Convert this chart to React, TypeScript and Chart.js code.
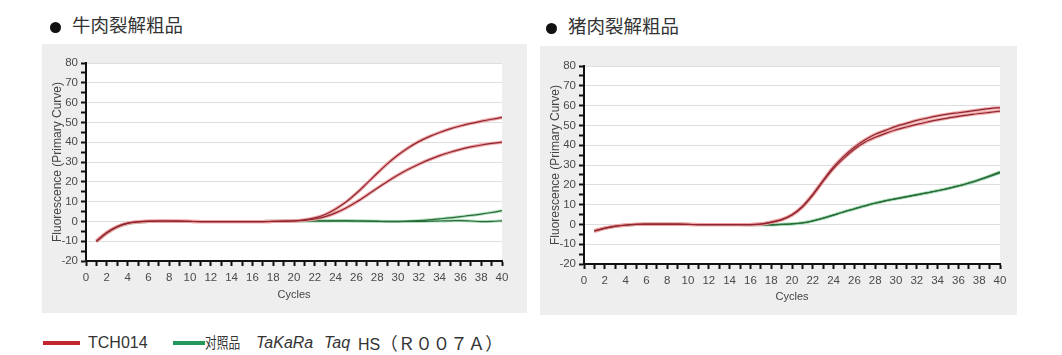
import React, { useEffect, useRef } from "react";
import { Chart, registerables } from "chart.js";

Chart.register(...registerables);

// ---------- data ----------
const cycles = [1, 2, 3, 4, 5, 6, 7, 8, 9, 10, 11, 12, 13, 14, 15, 16, 17, 18, 19, 20, 21, 22, 23, 24, 25, 26, 27, 28, 29, 30, 31, 32, 33, 34, 35, 36, 37, 38, 39, 40];

const xTickValues = [0, 40];
const yRange = [-20, 80];

const beefTitle = "牛肉裂解粗品";
const porkTitle = "猪肉裂解粗品";

// 牛肉裂解粗品 (beef)
const beefRedA = [-9.8, -5.6, -2.6, -0.9, -0.2, 0.1, 0.2, 0.2, 0.1, 0, -0.1, -0.1, -0.1, -0.1, -0.1, -0.1, -0.1, 0, 0.1, 0.3, 0.8, 1.8, 3.5, 6.3, 9.8, 14.2, 19.2, 24.3, 29.2, 33.5, 37.2, 40.3, 42.8, 44.9, 46.7, 48.2, 49.5, 50.6, 51.6, 52.5];
const beefRedB = [-10.2, -5.9, -2.8, -1, -0.3, 0, 0.1, 0.1, 0.1, 0, -0.1, -0.1, -0.1, -0.1, -0.1, -0.1, -0.1, 0, 0.1, 0.2, 0.5, 1.2, 2.4, 4.3, 6.8, 9.8, 13.2, 16.8, 20.2, 23.4, 26.3, 28.9, 31.2, 33.2, 34.9, 36.4, 37.6, 38.6, 39.4, 40];
const beefGreenA = [-10, -5.8, -2.9, -1.1, -0.4, -0.1, 0, 0, 0, 0, 0, 0, 0, 0, 0, 0, 0, 0.1, 0.1, 0.2, 0.2, 0.3, 0.3, 0.3, 0.3, 0.2, 0.2, 0.1, 0, 0, 0.1, 0.4, 0.8, 1.3, 1.8, 2.4, 3, 3.7, 4.5, 5.4];
const beefGreenB = [-10.1, -6, -3, -1.2, -0.4, -0.1, 0, 0, 0, 0, 0, 0, 0, 0, 0, 0, 0, 0.1, 0.1, 0.2, 0.2, 0.2, 0.2, 0.3, 0.3, 0.2, 0.1, 0, -0.1, -0.1, 0, 0, 0.1, 0.2, 0.3, 0.4, 0.2, -0.1, 0, 0.3];

// 猪肉裂解粗品 (pork)
const porkRedA = [-3.5, -2, -1, -0.4, 0, 0.1, 0.1, 0.1, 0.1, 0, -0.1, -0.1, -0.1, -0.1, -0.1, -0.1, 0.2, 1.2, 2.5, 4.9, 9.1, 15.2, 22.3, 29, 34.5, 39, 42.6, 45.5, 47.5, 49.5, 51, 52.5, 53.7, 54.8, 55.7, 56.4, 57.1, 57.8, 58.5, 59];
const porkRedB = [-3.2, -1.8, -0.9, -0.3, 0, 0.1, 0.1, 0.1, 0.1, 0, -0.1, -0.1, -0.1, -0.1, -0.1, -0.1, 0.1, 1, 2.3, 4.7, 8.8, 14.8, 21.8, 28.3, 33.5, 38, 41.5, 44, 46, 47.8, 49.2, 50.5, 51.7, 52.8, 53.7, 54.6, 55.3, 56, 56.6, 57.2];
const porkGreenA = [-3.4, -1.9, -1, -0.4, 0, 0.1, 0.1, 0.1, 0.1, 0, -0.1, -0.1, -0.1, -0.1, -0.1, -0.2, -0.2, -0.2, 0, 0.3, 0.8, 1.8, 3.2, 4.8, 6.4, 7.9, 9.4, 10.8, 12, 13, 14, 15, 16, 17, 18.2, 19.5, 21, 22.6, 24.5, 26.5];
const porkGreenB = [-3.3, -1.9, -1, -0.4, 0, 0.1, 0.1, 0.1, 0.1, 0, -0.1, -0.1, -0.1, -0.1, -0.1, -0.2, -0.2, -0.2, 0, 0.2, 0.7, 1.7, 3.1, 4.7, 6.3, 7.8, 9.3, 10.7, 11.9, 12.9, 13.9, 14.9, 15.9, 17, 18.1, 19.4, 20.8, 22.4, 24.2, 26];

// ---------- styles ----------
const RED_HALO = "rgba(238,160,160,0.9)";
const RED_CORE = "#8e2632";
const GREEN_HALO = "rgba(160,218,178,0.85)";
const GREEN_CORE = "#2b6a38";
const TICK_FAMILY = "'Liberation Sans Narrow', 'Liberation Sans', Arial, sans-serif";

const whiteArea = {
  id: "whiteArea",
  beforeDraw(chart: any) {
    const { ctx, chartArea } = chart;
    ctx.save();
    ctx.fillStyle = "#ffffff";
    ctx.fillRect(chartArea.left, chartArea.top, chartArea.right - chartArea.left, chartArea.bottom - chartArea.top);
    ctx.restore();
  },
};

function pts(vals: number[]) {
  return cycles.map((c, i) => ({ x: c, y: vals[i] }));
}

// Chart.js draws dataset 0 on top, so list the topmost layers first.
function buildDatasets(reds: number[][], greens: number[][]) {
  const base = { pointRadius: 0, fill: false, tension: 0.35 };
  const ds: any[] = [];
  reds.forEach((v) => ds.push({ ...base, data: pts(v), borderColor: RED_CORE, borderWidth: 1.2 }));
  reds.forEach((v) => ds.push({ ...base, data: pts(v), borderColor: RED_HALO, borderWidth: 3.4 }));
  greens.forEach((v) => ds.push({ ...base, data: pts(v), borderColor: GREEN_CORE, borderWidth: 1.2 }));
  greens.forEach((v) => ds.push({ ...base, data: pts(v), borderColor: GREEN_HALO, borderWidth: 3 }));
  return ds;
}

type PanelProps = {
  left: number;
  top: number;
  width: number;
  height: number;
  padTop: number;
  padRight: number;
  padBottom: number;
  reds: number[][];
  greens: number[][];
};

function Panel(p: PanelProps) {
  const ref = useRef<HTMLCanvasElement | null>(null);
  useEffect(() => {
    if (!ref.current) return;
    const chart = new Chart(ref.current, {
      type: "line",
      data: { datasets: buildDatasets(p.reds, p.greens) },
      plugins: [whiteArea],
      options: {
        animation: false,
        responsive: false,
        maintainAspectRatio: false,
        layout: { padding: { top: p.padTop, right: p.padRight, left: 0, bottom: 0 } },
        plugins: { legend: { display: false }, tooltip: { enabled: false } },
        scales: {
          x: {
            type: "linear",
            min: xTickValues[0],
            max: xTickValues[1],
            afterFit(s: any) {
              s.height = p.padBottom;
            },
            border: { color: "#111", width: 2 },
            grid: { drawOnChartArea: false, drawTicks: true, tickLength: 5, tickColor: "#111", tickWidth: 2 },
            ticks: {
              stepSize: 1,
              autoSkip: false,
              maxRotation: 0,
              padding: 5,
              color: "#4a4a4a",
              font: { family: TICK_FAMILY, size: 11.5 },
              callback: (v: any) => (Number(v) % 2 === 0 ? String(v) : ""),
            },
            title: { display: true, text: "Cycles", color: "#444", font: { family: TICK_FAMILY, size: 11 }, padding: { top: 0, bottom: 11 } },
          },
          y: {
            type: "linear",
            min: yRange[0],
            max: yRange[1],
            afterFit(s: any) {
              s.width = 44;
            },
            border: { color: "#111", width: 2 },
            grid: {
              color: (c: any) => (c.tick && Number(c.tick.value) % 10 === 0 ? "#dedede" : "rgba(0,0,0,0)"),
              lineWidth: 1,
              tickLength: 5,
              tickColor: "#111",
              tickWidth: 2,
            },
            ticks: {
              stepSize: 5,
              autoSkip: false,
              padding: 3,
              color: "#4a4a4a",
              font: { family: TICK_FAMILY, size: 11.5 },
              callback: (v: any) => (Number(v) % 10 === 0 ? String(v) : ""),
            },
            title: {
              display: true,
              text: "Fluorescence (Primary Curve)",
              color: "#444",
              font: { family: "'Liberation Sans', Arial, sans-serif", size: 12 },
              padding: { top: 8.5, bottom: 0 },
            },
          },
        },
      } as any,
    });
    return () => chart.destroy();
  }, []);
  return (
    <div style={{ position: "absolute", left: p.left, top: p.top, width: p.width, height: p.height, background: "#eeeeee" }}>
      <canvas ref={ref} width={p.width} height={p.height} style={{ width: p.width, height: p.height, display: "block" }} />
    </div>
  );
}

const cjk = "'Noto Sans CJK SC', 'Noto Sans', sans-serif";
const latin = "'Liberation Sans', Arial, sans-serif";

function Title({ bx, by, tx, ty, text }: { bx: number; by: number; tx: number; ty: number; text: string }) {
  return (
    <>
      <div style={{ position: "absolute", left: bx, top: by, width: 11, height: 11, borderRadius: "50%", background: "#111" }} />
      <div style={{ position: "absolute", left: tx, top: ty, fontFamily: cjk, fontSize: 18.5, lineHeight: "18.5px", color: "#333", whiteSpace: "nowrap" }}>{text}</div>
    </>
  );
}

export default function App() {
  const abs = (l: number, t: number, extra: any = {}) => ({ position: "absolute" as const, left: l, top: t, whiteSpace: "nowrap" as const, ...extra });
  return (
    <div style={{ position: "absolute", left: 0, top: 0, width: 1062, height: 355, background: "#ffffff", overflow: "hidden" }}>
      <Title bx={50} by={22} tx={72} ty={15} text={beefTitle} />
      <Title bx={546} by={23} tx={568} ty={16} text={porkTitle} />
      <Panel left={42} top={44} width={485} height={269} padTop={19} padRight={25} padBottom={52} reds={[beefRedA, beefRedB]} greens={[beefGreenA, beefGreenB]} />
      <Panel left={540} top={46} width={477} height={269} padTop={20} padRight={17} padBottom={51} reds={[porkRedA, porkRedB]} greens={[porkGreenA, porkGreenB]} />
      {/* legend */}
      <div style={abs(43, 341, { width: 37, height: 4, background: "#c4262e" })} />
      <div style={abs(88, 335, { fontFamily: latin, fontSize: 16, lineHeight: "16px", color: "#333" })}>TCH014</div>
      <div style={abs(173, 341, { width: 32, height: 4, background: "#23985a" })} />
      <div style={abs(205, 334, { fontFamily: cjk, fontSize: 15, lineHeight: "15px", color: "#333", transform: "scaleX(0.78)", transformOrigin: "left top" })}>对照品</div>
      <div style={abs(256, 335, { fontFamily: latin, fontSize: 16, lineHeight: "16px", color: "#333", fontStyle: "italic" })}>TaKaRa</div>
      <div style={abs(324, 335, { fontFamily: latin, fontSize: 16, lineHeight: "16px", color: "#333", fontStyle: "italic" })}>Taq</div>
      <div style={abs(358, 333, { lineHeight: "20px", color: "#333" })}>
        <span style={{ fontFamily: latin, fontSize: 16 }}>HS</span>
        <span style={{ fontFamily: cjk, fontSize: 17.5 }}>（Ｒ００７Ａ）</span>
      </div>
    </div>
  );
}
